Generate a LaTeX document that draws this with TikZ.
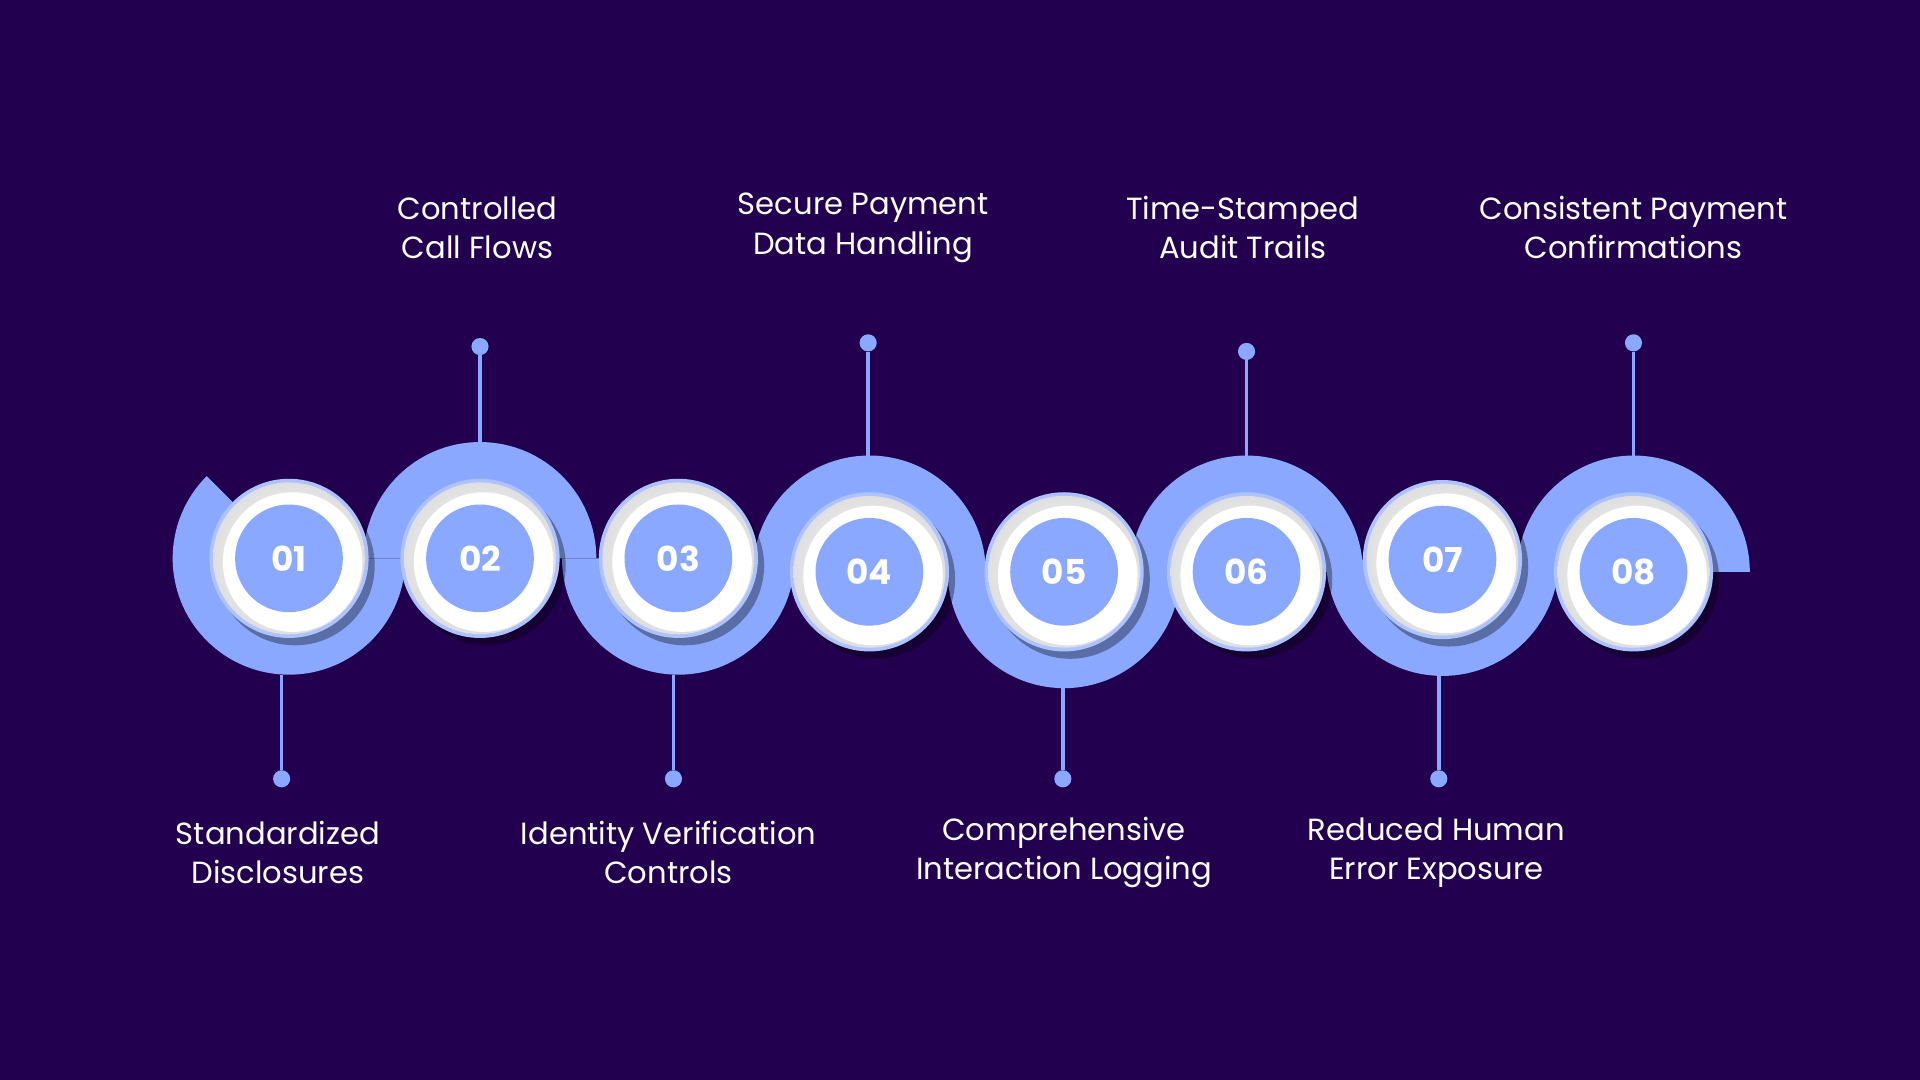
\documentclass[tikz,border=0pt]{standalone}
\usepackage{fontspec}
\setmainfont{Poppins}
\usetikzlibrary{calc}
\definecolor{bg}{HTML}{22004F}
\definecolor{blu}{HTML}{8AA8FF}
\begin{document}
\begin{tikzpicture}[x=1pt,y=1pt,
  lbl/.style={text=white,font=\fontsize{25}{32}\selectfont,align=center},
  num/.style={text=white,font=\fontsize{28}{30}\selectfont\bfseries},
  stem/.style={draw=blu,line width=3pt},
  dot/.style={circle,fill=blu,inner sep=0pt,minimum size=14pt}]
\fill[bg] (0,0) rectangle (1568,-882);
\useasboundingbox (0,0) rectangle (1568,-882);
\def\R{95}
% centers
\foreach \n/\x/\y in {1/236/456,2/392/456,3/554/456,4/710/467,5/869/467,6/1018/467,7/1178/457,8/1334/467}{
  \coordinate (c\n) at (\x,-\y);}
% wave
\fill[blu] (c1) -- ++(135:\R) arc[start angle=135,end angle=360,radius=\R] -- cycle;
\foreach \n in {3,5,7}{\fill[blu] (c\n) ++(-\R,0) arc[start angle=180,end angle=360,radius=\R] -- cycle;}
\foreach \n in {2,4,6,8}{\fill[blu] (c\n) ++(\R,0) arc[start angle=0,end angle=180,radius=\R] -- cycle;}
% stems
\foreach \n/\dx/\dy in {1/230/636,3/550/636,5/868/636,7/1175/636,2/392/283,4/709/280,6/1018/287,8/1334/280}{
  \node[dot] (d\n) at (\dx,-\dy) {};}
\path let \p1=(c1) in coordinate (s1) at (230,\y1-\R);
\path let \p1=(c3) in coordinate (s3) at (550,\y1-\R);
\path let \p1=(c5) in coordinate (s5) at (868,\y1-\R);
\path let \p1=(c7) in coordinate (s7) at (1175,\y1-\R);
\path let \p1=(c2) in coordinate (s2) at (392,\y1+\R);
\path let \p1=(c4) in coordinate (s4) at (709,\y1+\R);
\path let \p1=(c6) in coordinate (s6) at (1018,\y1+\R);
\path let \p1=(c8) in coordinate (s8) at (1334,\y1+\R);
\foreach \n in {1,...,8}{\draw[stem] (s\n) -- (d\n);}
% circles
\foreach \n/\t in {1/01,2/02,3/03,4/04,5/05,6/06,7/07,8/08}{
  \fill[black,opacity=0.35] ($(c\n)+(5,-6)$) circle (65);
  \fill[blu!70!white] (c\n) circle (65);
  \shade[inner color=white,outer color=white!75!gray] (c\n) circle (62);
  \fill[white] ($(c\n)+(3,-3)$) circle (57);
  \node[circle,fill=blu,minimum size=88pt,inner sep=0pt,num] (n\n) at (c\n) {\t};}
% labels
\node[lbl] (t2) at (390,-186) {Controlled\\Call Flows};
\node[lbl] (t4) at (705,-186) {Secure Payment\\Data Handling};
\node[lbl] (t6) at (1015,-186) {Time-Stamped\\Audit Trails};
\node[lbl] (t8) at (1334,-186) {Consistent Payment\\Confirmations};
\node[lbl] (t1) at (227,-696) {Standardized\\Disclosures};
\node[lbl] (t3) at (546,-696) {Identity Verification\\Controls};
\node[lbl] (t5) at (869,-696) {Comprehensive\\Interaction Logging};
\node[lbl] (t7) at (1173,-696) {Reduced Human\\Error Exposure};
\end{tikzpicture}
\end{document}
